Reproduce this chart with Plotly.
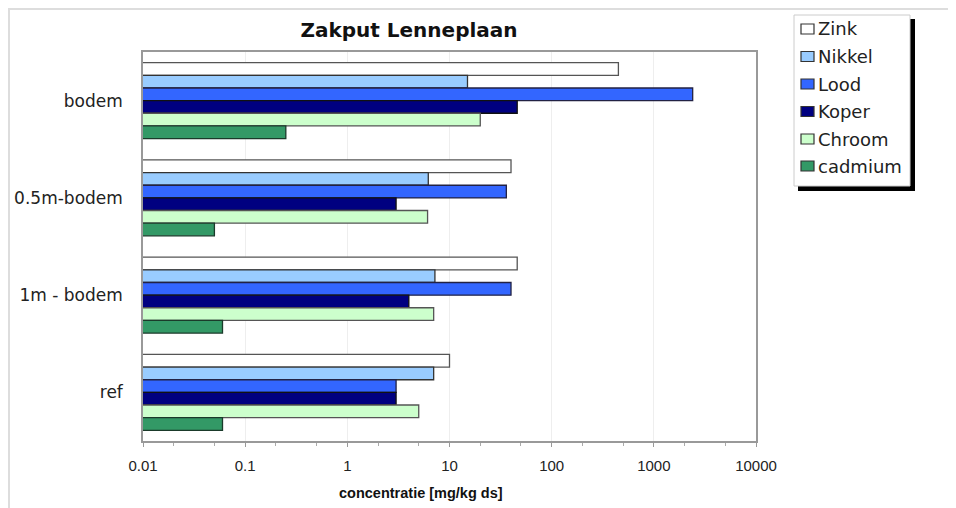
import plotly.graph_objects as go

categories = ["bodem", "0.5m-bodem", "1m - bodem", "ref"]
series_names = ["Zink", "Nikkel", "Lood", "Koper", "Chroom", "cadmium"]
zink = [450, 40, 46, 10]
nikkel = [15, 6.2, 7.2, 7]
lood = [2400, 36, 40, 3]
koper = [46, 3, 4, 3]
chroom = [20, 6.1, 7, 5]
cadmium = [0.25, 0.05, 0.06, 0.06]
tick_vals = [0.01, 0.1, 1, 10, 100, 1000, 10000]
tick_text = ["0.01", "0.1", "1", "10", "100", "1000", "10000"]

values = [zink, nikkel, lood, koper, chroom, cadmium]
fills = ["#FFFFFF", "#99CCFF", "#3366FF", "#000080", "#CCFFCC", "#339966"]
outlines = ["#555555", "#333333", "#222244", "#111111", "#555555", "#1a3a2a"]

OFF = 8  # page body margin offset
W, H = 956, 508
PL, PR, PT, PB = 143, 756, 52, 441  # plot area in page pixels
L, T = PL - OFF, PT - OFF
PW, PH = PR - PL, PB - PT
R, B = W - L - PW, H - T - PH

def px_x(x):
    return (x - PL) / PW

def px_y(y):
    return (PB - y) / PH

fig = go.Figure()
for name, vals, fc, lc in zip(series_names, values, fills, outlines):
    fig.add_trace(go.Bar(
        y=categories, x=vals, name=name, orientation="h",
        marker=dict(color=fc, line=dict(color=lc, width=1.3)),
        showlegend=False,
    ))

fig.update_layout(
    width=W, height=H,
    paper_bgcolor="white", plot_bgcolor="white",
    margin=dict(l=L, r=R, t=T, b=B, autoexpand=False),
    barmode="group", bargap=0.22, bargroupgap=0,
    font=dict(family="Liberation Sans, Arial", size=14, color="#222222"),
    title=dict(text="<b>Zakput Lenneplaan</b>", x=(409 - OFF) / W, xanchor="center",
               y=1 - (30 - OFF) / H, yanchor="middle",
               font=dict(family="DejaVu Sans", size=20, color="#111111")),
    xaxis=dict(type="log", range=[-2, 4], tickvals=tick_vals, ticktext=tick_text,
               showgrid=True, gridcolor="#eeeeee", gridwidth=1,
               showline=True, linecolor="#999999", linewidth=1.5, mirror=True,
               ticks="outside", ticklen=4, tickcolor="#999999", ticklabelstandoff=6,
               minor=dict(ticks="outside", ticklen=3, tickcolor="#aaaaaa", showgrid=False),
               tickfont=dict(size=15), zeroline=False),
    yaxis=dict(categoryorder="array", categoryarray=categories, autorange="reversed",
               showline=True, linecolor="#999999", linewidth=1.5, mirror=True,
               ticks="", showgrid=False, ticklabelstandoff=15,
               tickfont=dict(family="DejaVu Sans", size=17)),
)

# x axis title (offset left of plot centre, as in the original)
fig.add_annotation(text="<b>concentratie [mg/kg ds]</b>", xref="paper", yref="paper",
                   x=px_x(421), y=px_y(493), xanchor="center", yanchor="middle",
                   showarrow=False, font=dict(family="Liberation Sans", size=14.5, color="#111111"))

# outer chart frame
fig.add_shape(type="rect", xref="paper", yref="paper",
              x0=px_x(9), x1=px_x(952), y0=px_y(540), y1=px_y(9),
              line=dict(color="#dddddd", width=2), fillcolor="rgba(0,0,0,0)", layer="below")

# legend: drop shadow, box, swatches and names
LX0, LX1, LY0, LY1 = 794, 910, 15, 186
fig.add_shape(type="rect", xref="paper", yref="paper",
              x0=px_x(LX0 + 4), x1=px_x(LX1 + 5), y0=px_y(LY1 + 5), y1=px_y(LY0 + 4),
              line=dict(width=0), fillcolor="black", layer="above")
fig.add_shape(type="rect", xref="paper", yref="paper",
              x0=px_x(LX0), x1=px_x(LX1), y0=px_y(LY1), y1=px_y(LY0),
              line=dict(color="#cccccc", width=1), fillcolor="white", layer="above")
row_y = [29, 56.5, 84, 111.5, 139, 166]
for name, fc, lc, yy in zip(series_names, fills, outlines, row_y):
    fig.add_shape(type="rect", xref="paper", yref="paper",
                  x0=px_x(801), x1=px_x(814), y0=px_y(yy + 5), y1=px_y(yy - 5),
                  line=dict(color="#333333", width=1.2), fillcolor=fc, layer="above")
    fig.add_annotation(text=name, xref="paper", yref="paper",
                       x=px_x(816), y=px_y(yy), xanchor="left", yanchor="middle",
                       showarrow=False, font=dict(family="DejaVu Sans", size=18, color="#222222"))

fig.write_html("out.html")
